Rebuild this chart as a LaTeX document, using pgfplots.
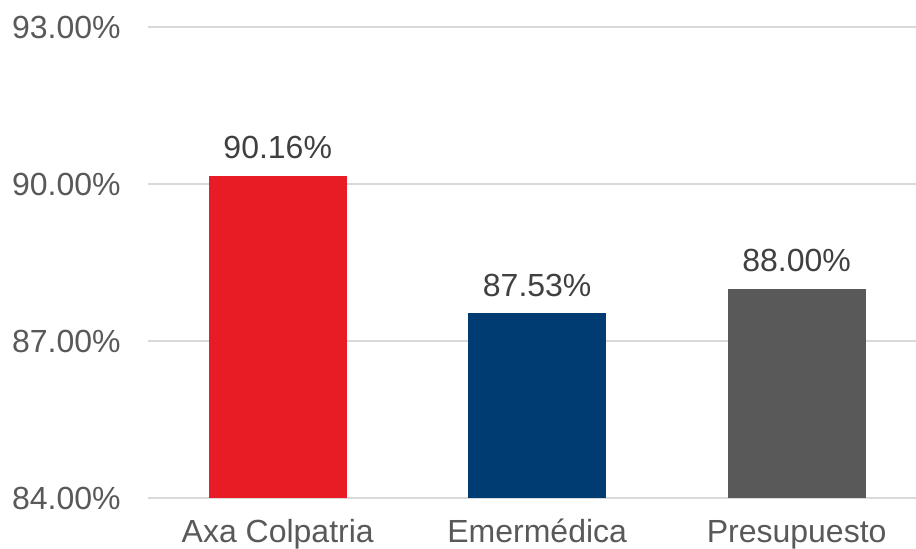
\documentclass[border=0pt]{standalone}
\usepackage{pgfplots}
\pgfplotsset{compat=1.18}
\usepackage{fontspec}
\setmainfont{Liberation Sans}
\definecolor{cred}{HTML}{E81C24}
\definecolor{cnavy}{HTML}{003C71}
\definecolor{cgray}{HTML}{595959}
\definecolor{ctick}{HTML}{595959}
\definecolor{clab}{HTML}{404040}
\definecolor{cgrid}{HTML}{D9D9D9}
\begin{document}
\begin{tikzpicture}
\begin{axis}[
  at={(0,0)}, anchor=south west,
  scale only axis,
  width=384pt, height=235.5pt,
  xmin=-0.5, xmax=2.46,
  ymin=84, ymax=93,
  ytick={84,87,90,93},
  xtick={0,1,2},
  xticklabels={Axa Colpatria,Emermédica,Presupuesto},
  ymajorgrids,
  grid style={cgrid, line width=0.6pt},
  axis line style={draw=none},
  major tick length=0pt,
  /pgf/number format/assume math mode=true,
  yticklabel={\pgfmathprintnumber[fixed,fixed zerofill,precision=2]{\tick}\%},
  yticklabel style={font=\fontsize{16}{19}\selectfont, text=ctick, anchor=east, inner sep=0pt, xshift=-13.5pt},
  xticklabel style={font=\fontsize{16}{19}\selectfont, text=ctick, anchor=base, inner sep=0pt, yshift=-22.5pt},
  ybar, bar width=69pt,
  nodes near coords={\pgfmathprintnumber[fixed,fixed zerofill,precision=2]{\pgfplotspointmeta}\%},
  nodes near coords style={font=\fontsize{16}{19}\selectfont, text=clab, anchor=south, inner sep=0pt, yshift=8pt},
  clip=false,
]
\addplot[fill=cred, draw=none, bar shift=0pt] coordinates {(0,90.16)};
\addplot[fill=cnavy, draw=none, bar shift=0pt] coordinates {(1,87.53)};
\addplot[fill=cgray, draw=none, bar shift=0pt] coordinates {(2,88.00)};
\end{axis}
\pgfresetboundingbox
\path[use as bounding box] (-74pt,-25.5pt) rectangle (384pt,249pt);
\end{tikzpicture}
\end{document}
